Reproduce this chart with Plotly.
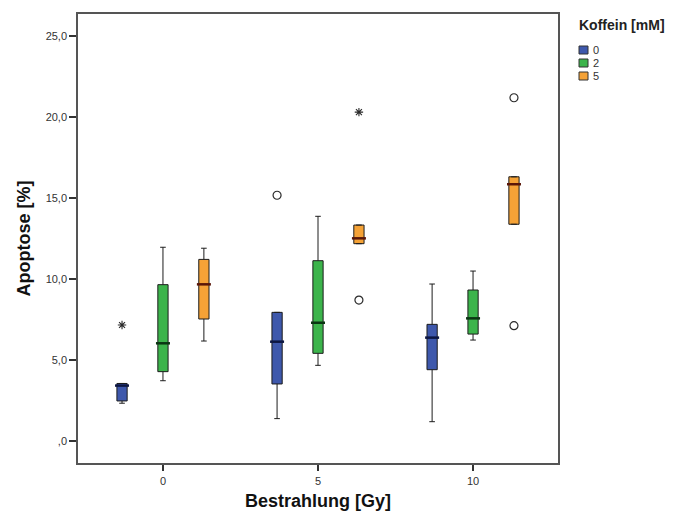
import plotly.graph_objects as go

# Irradiation doses on the x axis (Gy) and caffeine groups (mM)
doses = [0, 5, 10]
caffeine = ["0", "2", "5"]

# Box statistics per caffeine group, one value per dose
lower = [[2.33, 1.38, 1.19], [3.72, 4.67, 6.23], [6.17, 12.18, 13.38]]
q1 = [[2.47, 3.52, 4.40], [4.28, 5.41, 6.60], [7.53, 12.18, 13.38]]
median = [[3.42, 6.13, 6.38], [6.03, 7.30, 7.57], [9.67, 12.51, 15.85]]
q3 = [[3.55, 7.94, 7.20], [9.65, 11.13, 9.32], [11.21, 13.33, 16.31]]
upper = [[3.55, 7.94, 9.69], [11.96, 13.87, 10.49], [11.90, 13.33, 16.31]]

# Outliers (circles) and extreme values (asterisks): dose, caffeine group index, value
outlier_dose = [5, 5, 10, 10]
outlier_group = [0, 2, 2, 2]
outlier_value = [15.17, 8.70, 21.19, 7.12]
extreme_dose = [0, 5]
extreme_group = [0, 2]
extreme_value = [7.16, 20.30]

# Y tick labels in German decimal format
y_ticks = [0, 5, 10, 15, 20, 25]
y_tick_text = [",0", "5,0", "10,0", "15,0", "20,0", "25,0"]

fills = ["#3E58AC", "#3CB44B", "#F5A236"]
median_colors = ["#0c1642", "#0a3512", "#5a1608"]
offsets = [-1.32, 0.0, 1.32]
FONT = "Arial, 'Liberation Sans', sans-serif"

W, H = 689, 512
ML, MR, MT, MB = 78, 131, 14, 49
PW, PH = W - ML - MR, H - MT - MB


def px_x(px):
    return (px - ML) / PW


def px_y(py):
    return 1 - (py - MT) / PH


fig = go.Figure()

for g, name in enumerate(caffeine):
    xs = [d + offsets[g] for d in doses]
    fig.add_trace(go.Box(
        name=name,
        x=xs,
        q1=q1[g], median=median[g], q3=q3[g],
        lowerfence=lower[g], upperfence=upper[g],
        boxpoints=False,
        width=0.33,
        whiskerwidth=0.55,
        fillcolor=fills[g],
        line=dict(color="#1c1c1c", width=1),
        showlegend=False,
    ))
    # thicker median bar
    fig.add_trace(go.Scatter(
        x=xs, y=median[g], mode="markers",
        marker=dict(symbol="line-ew", size=10,
                    line=dict(color=median_colors[g], width=2.5)),
        showlegend=False, hoverinfo="skip",
    ))

fig.add_trace(go.Scatter(
    x=[d + offsets[g] for d, g in zip(outlier_dose, outlier_group)],
    y=outlier_value, mode="markers",
    marker=dict(symbol="circle-open", size=8, color="#2a2a2a",
                line=dict(width=1.2)),
    showlegend=False,
))
fig.add_trace(go.Scatter(
    x=[d + offsets[g] for d, g in zip(extreme_dose, extreme_group)],
    y=extreme_value, mode="markers",
    marker=dict(symbol="asterisk-open", size=7, color="#2a2a2a",
                line=dict(width=1.1)),
    showlegend=False,
))

# Legend: title plus a colour swatch per caffeine group
fig.add_annotation(
    x=px_x(577), y=px_y(25), xref="paper", yref="paper",
    xanchor="left", yanchor="middle", showarrow=False,
    text="<b>Koffein [mM]</b>",
    font=dict(size=14, color="#222222"),
)
for g, name in enumerate(caffeine):
    cy = 50 + 13 * g
    fig.add_shape(
        type="rect", xref="paper", yref="paper",
        x0=px_x(579), x1=px_x(588), y0=px_y(cy - 4), y1=px_y(cy + 4),
        fillcolor=fills[g], line=dict(color="#333333", width=1),
    )
    fig.add_annotation(
        x=px_x(591), y=px_y(cy), xref="paper", yref="paper",
        xanchor="left", yanchor="middle", showarrow=False,
        text=name, font=dict(size=11, color="#333333"),
    )

axis_line = dict(showline=True, linecolor="#555555", linewidth=1.5,
                 mirror=True, ticks="outside", tickcolor="#333333",
                 showgrid=False, zeroline=False, automargin=False)

fig.update_layout(
    width=W, height=H,
    margin=dict(l=ML, r=MR, t=MT, b=MB),
    paper_bgcolor="white", plot_bgcolor="white",
    font=dict(family=FONT, color="#333333", size=11),
    xaxis=dict(
        range=[-2.74, 12.74],
        tickvals=doses, ticktext=[str(d) for d in doses],
        ticklen=6, tickwidth=1.5, ticklabelstandoff=1,
        tickfont=dict(size=11, color="#333333"),
        title=dict(text="<b>Bestrahlung [Gy]</b>", standoff=8,
                   font=dict(size=18, color="#111111")),
        **axis_line,
    ),
    yaxis=dict(
        range=[-1.36, 26.36],
        tickvals=y_ticks, ticktext=y_tick_text,
        ticklen=7, tickwidth=1.5,
        tickfont=dict(size=11, color="#333333"),
        title=dict(text="<b>Apoptose [%]</b>", standoff=10,
                   font=dict(size=18, color="#111111")),
        **axis_line,
    ),
    showlegend=False,
)

fig.write_html("out.html")
